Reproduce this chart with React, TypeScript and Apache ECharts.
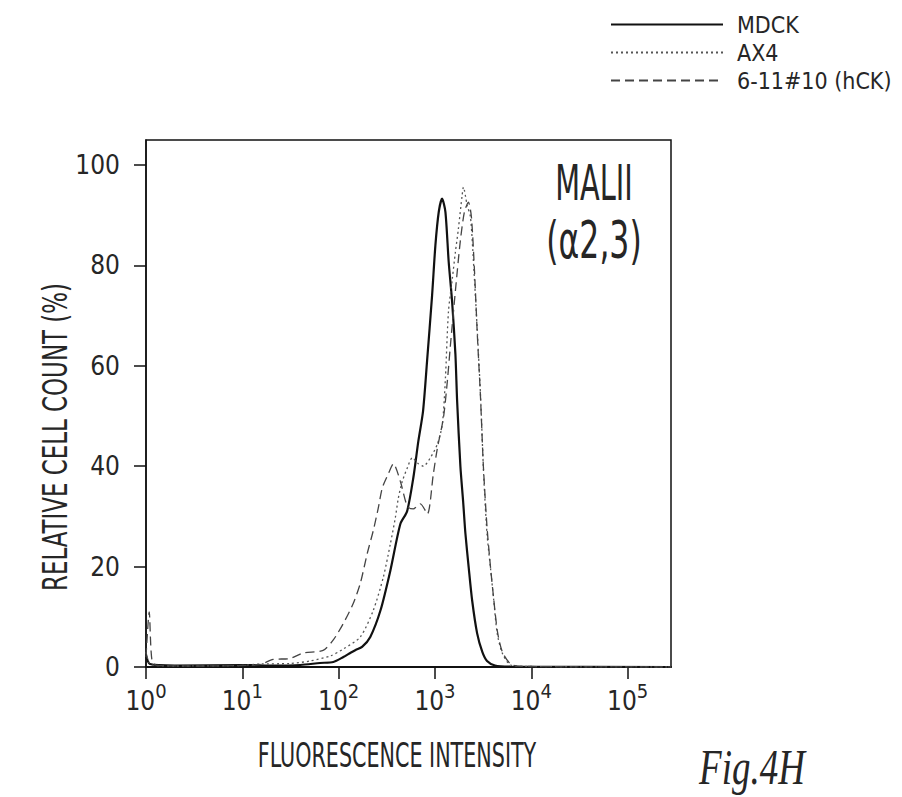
import React, { useEffect, useRef } from "react";
import * as echarts from "echarts";

// ---- data ----
const xTickValues = [1, 10, 100, 1000, 10000, 100000];
const yTickValues = [0, 20, 40, 60, 80, 100];

const mdckX = [1, 1.1, 2, 10, 20, 40, 64, 88, 112, 132, 150, 175, 213, 272, 344, 437, 513, 596, 672, 752, 828, 933, 1010, 1095, 1185, 1283, 1387, 1506, 1630, 1698, 1836, 1960, 2070, 2240, 2430, 2740, 3100, 3470, 4200, 6000, 282000];
const mdckY = [2.5, 0.6, 0.3, 0.4, 0.3, 0.4, 0.8, 1.0, 2.0, 2.8, 3.4, 4.0, 6.0, 11.3, 19.2, 28.5, 31, 37.7, 45, 51, 61, 74, 84, 90.7, 93.3, 90.7, 80.8, 72.8, 62.3, 53, 40, 33, 26.6, 19.8, 13.3, 6.7, 3.0, 1.2, 0.3, 0.1, 0];

const ax4X = [1, 1.12, 2, 9.7, 15.3, 31.4, 50.7, 82, 112, 168, 229, 291, 344, 388, 417, 458, 517, 582, 672, 758, 896, 1059, 1193, 1283, 1380, 1514, 1630, 1750, 1914, 1974, 2157, 2335, 2507, 2740, 2965, 3208, 3467, 3766, 4075, 4425, 4990, 6080, 9780, 282000];
const ax4Y = [3, 0.5, 0.2, 0.3, 0.6, 0.7, 1.2, 2.2, 3.6, 6, 11.3, 17.9, 24.5, 29.8, 33.7, 37, 39.7, 41.7, 40.5, 40, 41.7, 44.4, 48.4, 57.5, 70.8, 77.4, 82.7, 87.3, 94, 95.6, 92, 89.7, 80.8, 67.5, 54.4, 38, 26.6, 19.8, 13.3, 6.7, 2.8, 0.4, 0.1, 0];

const hckX = [1, 1.08, 1.15, 1.3, 3.6, 9.7, 15.3, 20.9, 31.4, 42.9, 69, 88, 112, 142, 168, 198, 229, 258, 284, 328, 370, 437, 517, 596, 705, 834, 962, 1059, 1223, 1345, 1445, 1630, 1836, 2023, 2224, 2388, 2570, 2755, 2965, 3180, 3467, 3766, 4075, 4456, 5010, 6225, 9780, 282000];
const hckY = [2, 11, 1.5, 0.3, 0.2, 0.3, 0.5, 1.5, 1.7, 2.8, 3.3, 5.4, 8.7, 12.7, 16.7, 22.6, 27.2, 31.7, 35.7, 38.5, 40.5, 37, 32, 31.5, 32.5, 30.5, 38.5, 43.6, 49.6, 57, 64, 75, 85, 90.7, 92.6, 89.7, 79, 66, 54, 40, 28, 20, 13.5, 7, 3, 0.5, 0.1, 0];

const seriesNames = ["MDCK", "AX4", "6-11#10 (hCK)"];

const NARROW = "'Liberation Sans Narrow', 'Arial Narrow', 'DejaVu Sans Condensed', 'Roboto Condensed', 'Liberation Sans', sans-serif";
const TEXT = "#262626";

const pairs = (xs: number[], ys: number[]) => xs.map((x, i) => [x, ys[i]]);

export default function App() {
  const ref = useRef<HTMLDivElement>(null);
  useEffect(() => {
    if (!ref.current) return;
    const chart = echarts.init(ref.current, undefined, { renderer: "svg" });
    const option: any = {
      animation: false,
      backgroundColor: "#ffffff",
      textStyle: { fontFamily: NARROW, color: TEXT },
      grid: {
        left: 146,
        top: 140,
        right: 231,
        bottom: 130,
        containLabel: false,
        show: true,
        borderColor: "#111",
        borderWidth: 1.5,
      },
      legend: {
        orient: "vertical",
        left: 605,
        top: 10,
        padding: [3, 5, 5, 5],
        itemWidth: 112,
        itemHeight: 14,
        itemGap: 5,
        itemStyle: { opacity: 0 },
        textStyle: { fontFamily: NARROW, fontSize: 23, color: TEXT, padding: [0, 0, 0, 9] },
        data: seriesNames,
      },
      xAxis: {
        type: "log",
        logBase: 10,
        min: 1,
        max: 282000,
        splitLine: { show: false },
        axisLine: { show: true, onZero: false, lineStyle: { color: "#111", width: 2 } },
        axisTick: { show: true, length: 12, inside: false, lineStyle: { color: "#111", width: 1.5 }, customValues: xTickValues },
        minorTick: { show: false },
        axisLabel: {
          margin: 14,
          customValues: xTickValues,
          formatter: (v: number) => {
            const e = Math.log10(v);
            if (Math.abs(e - Math.round(e)) > 1e-6) return "";
            return "{b|10}{e|" + Math.round(e) + "}";
          },
          rich: {
            b: { fontFamily: NARROW, fontSize: 26, color: TEXT, padding: [7, 0, 0, 0] },
            e: { fontFamily: NARROW, fontSize: 20, color: TEXT, verticalAlign: "top" },
          },
        },
      },
      yAxis: {
        type: "value",
        min: 0,
        max: 105,
        interval: 20,
        splitLine: { show: false },
        axisLine: { show: true, lineStyle: { color: "#111", width: 1.5 } },
        axisTick: { show: true, length: 12, lineStyle: { color: "#111", width: 1.5 }, customValues: yTickValues },
        axisLabel: { margin: 26, fontSize: 26, fontFamily: NARROW, color: TEXT, customValues: yTickValues },
      },
      series: [
        {
          name: seriesNames[0],
          type: "line",
          data: pairs(mdckX, mdckY),
          showSymbol: false,
          symbol: "none",
          smooth: 0.25,
          lineStyle: { color: "#111", width: 2.2, type: "solid" },
          itemStyle: { color: "#111" },
        },
        {
          name: seriesNames[1],
          type: "line",
          data: pairs(ax4X, ax4Y),
          showSymbol: false,
          symbol: "none",
          smooth: 0.25,
          lineStyle: { color: "#555", width: 1.3, type: [2, 3] },
          itemStyle: { color: "#555" },
        },
        {
          name: seriesNames[2],
          type: "line",
          data: pairs(hckX, hckY),
          showSymbol: false,
          symbol: "none",
          smooth: 0.25,
          lineStyle: { color: "#444", width: 1.3, type: [9, 5] },
          itemStyle: { color: "#444" },
        },
      ],
      graphic: [
        {
          type: "text",
          x: 594,
          y: 183,
          scaleY: 1.55,
          style: { text: "MALII", fontFamily: NARROW, fontSize: 32, fill: TEXT, align: "center", verticalAlign: "middle" },
        },
        {
          type: "text",
          x: 594,
          y: 241,
          scaleY: 1.45,
          style: { text: "(α2,3)", fontFamily: NARROW, fontSize: 35, fill: TEXT, align: "center", verticalAlign: "middle" },
        },
        {
          type: "text",
          x: 55,
          y: 437,
          rotation: Math.PI / 2,
          scaleY: 1.35,
          style: { text: "RELATIVE CELL COUNT (%)", fontFamily: NARROW, fontSize: 25.5, fill: TEXT, align: "center", verticalAlign: "middle" },
        },
        {
          type: "text",
          x: 397,
          y: 755,
          scaleY: 1.5,
          style: { text: "FLUORESCENCE INTENSITY", fontFamily: NARROW, fontSize: 23, fill: TEXT, align: "center", verticalAlign: "middle" },
        },
        {
          type: "text",
          x: 752,
          y: 768,
          scaleY: 1.35,
          style: { text: "Fig.4H", fontFamily: "'Liberation Serif', 'DejaVu Serif', serif", fontStyle: "italic", fontSize: 37, fill: TEXT, align: "center", verticalAlign: "middle" },
        },
      ],
    };
    chart.setOption(option);
    return () => chart.dispose();
  }, []);
  return <div ref={ref} style={{ position: "absolute", left: 0, top: 0, width: 902, height: 797 }} />;
}
